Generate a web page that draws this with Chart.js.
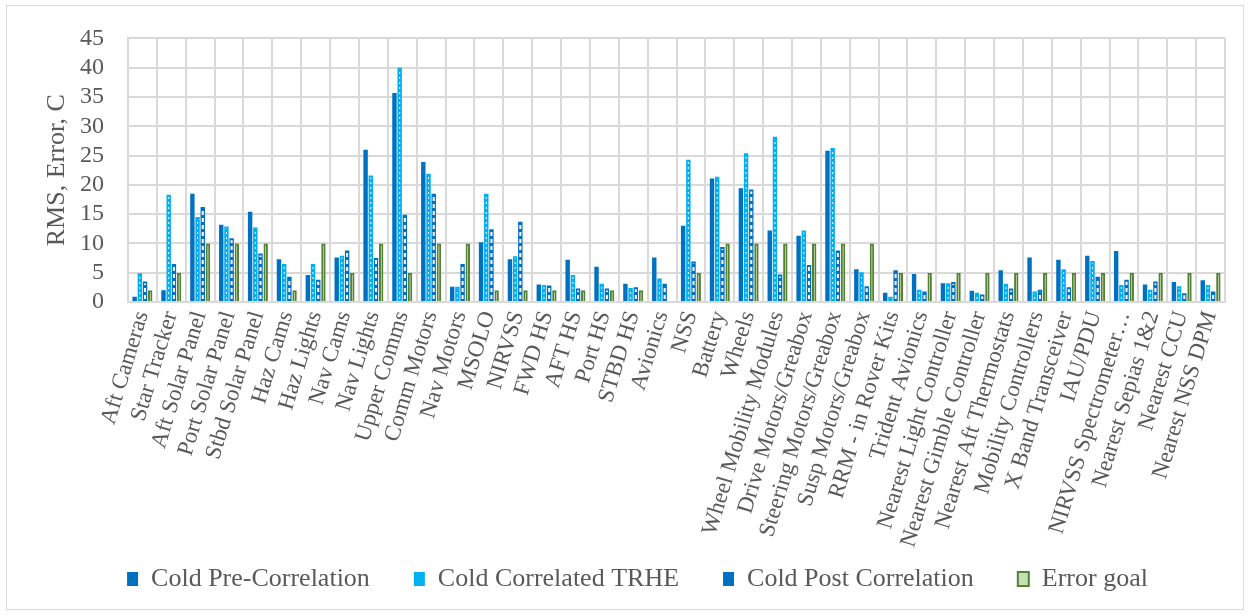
<!DOCTYPE html>
<html>
<head>
<meta charset="utf-8">
<script src="https://cdn.jsdelivr.net/npm/chart.js@4/dist/chart.umd.min.js"></script>
<style>
  html, body { margin: 0; padding: 0; background: #fff; }
</style>
</head>
<body>
<canvas id="rmsChart" width="1250" height="616"></canvas>
<script>
const categories = ['Aft Cameras', 'Star Tracker', 'Aft Solar Panel', 'Port Solar Panel', 'Stbd Solar Panel',
  'Haz Cams', 'Haz Lights', 'Nav Cams', 'Nav Lights', 'Upper Comms', 'Comm Motors', 'Nav Motors', 'MSOLO',
  'NIRVSS', 'FWD HS', 'AFT HS', 'Port HS', 'STBD HS', 'Avionics', 'NSS', 'Battery', 'Wheels',
  'Wheel Mobility Modules', 'Drive Motors/Greabox', 'Steering Motors/Greabox', 'Susp Motors/Greabox',
  'RRM - in Rover Kits', 'Trident Avionics', 'Nearest Light Controller', 'Nearest Gimble Controller',
  'Nearest Aft Thermostats', 'Mobility Controllers', 'X Band Transceiver', 'IAU/PDU',
  'NIRVSS Spectrometer…', 'Nearest Sepias 1&2', 'Nearest CCU', 'Nearest NSS DPM'];

const coldPre = [0.9, 2.0, 18.5, 13.2, 15.4, 7.3, 4.6, 7.6, 26.0, 35.7, 23.9, 2.6, 10.2, 7.3, 3.0, 7.2, 6.0, 3.1, 7.6,
  13.0, 21.1, 19.4, 12.2, 11.3, 25.8, 5.6, 1.6, 4.8, 3.2, 1.9, 5.4, 7.6, 7.2, 7.9, 8.7, 3.0, 3.4, 3.7];
const coldTrhe = [4.9, 18.3, 14.5, 12.9, 12.7, 6.5, 6.5, 7.9, 21.6, 40.0, 21.9, 2.6, 18.5, 7.8, 2.9, 4.6, 3.1, 2.4, 4.0,
  24.3, 21.4, 25.4, 28.2, 12.2, 26.3, 5.1, 0.9, 2.1, 3.2, 1.6, 3.1, 1.8, 5.6, 7.0, 2.9, 2.1, 2.7, 2.9];
const coldPost = [3.5, 6.5, 16.2, 10.9, 8.3, 4.3, 3.8, 8.8, 7.5, 14.9, 18.5, 6.5, 12.4, 13.7, 2.8, 2.3, 2.3, 2.5, 3.1,
  6.9, 9.4, 19.2, 4.7, 6.3, 8.8, 2.7, 5.4, 1.8, 3.4, 1.3, 2.3, 2.1, 2.5, 4.3, 3.8, 3.5, 1.5, 1.8];
const errorGoal = [2, 5, 10, 10, 10, 2, 10, 5, 10, 5, 10, 10, 2, 2, 2, 2, 2, 2, null, 5, 10, 10, 10, 10, 10, 10,
  5, 5, 5, 5, 5, 5, 5, 5, 5, 5, 5, 5];
const yMax = 45;
const yStep = 5;

const serif = "'Liberation Serif', 'Times New Roman', serif";
const textColor = '#595959';
const gridColor = '#d9d9d9';

// weisse Punkt-/Strichlinie in der Balkenmitte (Excel-Muster)
const barPattern = {
  id: 'barPattern',
  afterDatasetsDraw(chart) {
    const ctx = chart.ctx;
    [[1, [2, 3], 1], [2, [4, 3], 2]].forEach(([idx, dash, w]) => {
      chart.getDatasetMeta(idx).data.forEach(bar => {
        const {x, y, base} = bar.getProps(['x', 'y', 'base'], true);
        if (base - y < 4) return;
        ctx.save();
        ctx.strokeStyle = '#fff';
        ctx.lineWidth = w;
        ctx.setLineDash(dash);
        ctx.beginPath();
        ctx.moveTo(x, base - 2);
        ctx.lineTo(x, y + 2);
        ctx.stroke();
        ctx.restore();
      });
    });
  }
};

const outerFrame = {
  id: 'outerFrame',
  beforeDraw(chart) {
    const ctx = chart.ctx;
    ctx.save();
    ctx.strokeStyle = gridColor;
    ctx.lineWidth = 1;
    ctx.strokeRect(6.5, 5.5, 1237, 604);
    ctx.restore();
  }
};

// Legende: feste Hoehe, etwas nach rechts wie im Original
const legendBox = {
  id: 'legendBox',
  beforeInit(chart) {
    const fit = chart.legend.fit;
    chart.legend.fit = function () {
      fit.call(this);
      this.height = 94;
    };
  },
  afterLayout(chart) {
    chart.legend.left += 25;
    chart.legend.right += 25;
  }
};

new Chart(document.getElementById('rmsChart'), {
  type: 'bar',
  data: {
    labels: categories,
    datasets: [
      { label: 'Cold Pre-Correlation', data: coldPre, backgroundColor: '#0070C0', borderWidth: 0 },
      { label: 'Cold Correlated TRHE', data: coldTrhe, backgroundColor: '#00B0F0', borderWidth: 0 },
      { label: 'Cold Post Correlation', data: coldPost, backgroundColor: '#0070C0', borderWidth: 0 },
      { label: 'Error goal', data: errorGoal, backgroundColor: '#c5e0b4', borderColor: '#548235', borderWidth: 2 }
    ]
  },
  options: {
    responsive: false,
    animation: false,
    categoryPercentage: 0.72,
    barPercentage: 0.85,
    layout: { padding: { top: 34, right: 25, left: 0, bottom: 0 } },
    scales: {
      x: {
        grid: { color: gridColor, lineWidth: 2, drawTicks: false },
        border: { color: gridColor, width: 2 },
        ticks: {
          autoSkip: false, minRotation: 73, maxRotation: 73, padding: 6,
          color: textColor, font: { family: serif, size: 23 }
        },
        afterFit(scale) {
          scale.height = 220;
          scale._computeLabelArea = () => undefined; // lange Labels nicht abschneiden
        }
      },
      y: {
        min: 0, max: yMax,
        grid: { color: gridColor, lineWidth: 2, drawTicks: false },
        border: { color: gridColor, width: 2 },
        ticks: {
          stepSize: yStep, autoSkip: false, padding: 24,
          color: textColor, font: { family: serif, size: 24 }
        },
        title: {
          display: true, text: 'RMS, Error, C', color: textColor,
          font: { family: serif, size: 26 }, padding: { top: 42, bottom: 0 }
        },
        afterFit(scale) { scale.width = 128; }
      }
    },
    plugins: {
      legend: {
        position: 'bottom',
        labels: { color: textColor, font: { family: serif, size: 26 }, boxWidth: 11, boxHeight: 14, padding: 44 }
      },
      tooltip: { enabled: false }
    }
  },
  plugins: [barPattern, outerFrame, legendBox]
});
</script>
</body>
</html>
